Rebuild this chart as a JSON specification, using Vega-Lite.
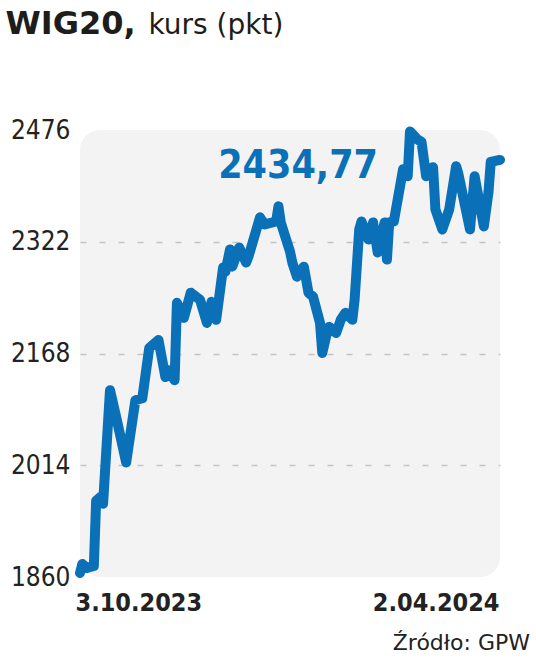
{
  "$schema": "https://vega.github.io/schema/vega-lite/v6.json",
  "autosize": "none",
  "width": 420,
  "height": 447,
  "padding": {"left": 80, "top": 130, "right": 36, "bottom": 82},
  "background": "#ffffff",
  "title": {
    "text": "Źródło: GPW",
    "orient": "bottom",
    "anchor": "end",
    "frame": "group",
    "dx": 30,
    "offset": 18,
    "font": "DejaVu Sans",
    "fontSize": 22,
    "fontWeight": "normal",
    "color": "#222222"
  },
  "data": {
    "values": [
      {"date": "2023-10-03", "value": 1865.5},
      {"date": "2023-10-04", "value": 1878.0},
      {"date": "2023-10-06", "value": 1872.5},
      {"date": "2023-10-09", "value": 1875.2},
      {"date": "2023-10-10", "value": 1965.2},
      {"date": "2023-10-12", "value": 1970.7},
      {"date": "2023-10-13", "value": 1961.1},
      {"date": "2023-10-16", "value": 2117.5},
      {"date": "2023-10-19", "value": 2076.0},
      {"date": "2023-10-23", "value": 2017.9},
      {"date": "2023-10-27", "value": 2103.6},
      {"date": "2023-10-30", "value": 2106.4},
      {"date": "2023-11-02", "value": 2175.6},
      {"date": "2023-11-06", "value": 2186.7},
      {"date": "2023-11-09", "value": 2135.5},
      {"date": "2023-11-10", "value": 2145.2},
      {"date": "2023-11-13", "value": 2131.3},
      {"date": "2023-11-14", "value": 2237.9},
      {"date": "2023-11-17", "value": 2217.1},
      {"date": "2023-11-20", "value": 2251.8},
      {"date": "2023-11-24", "value": 2242.1},
      {"date": "2023-11-27", "value": 2210.2},
      {"date": "2023-11-29", "value": 2239.3},
      {"date": "2023-12-01", "value": 2214.4},
      {"date": "2023-12-04", "value": 2286.4},
      {"date": "2023-12-05", "value": 2280.8},
      {"date": "2023-12-07", "value": 2311.3},
      {"date": "2023-12-08", "value": 2287.7},
      {"date": "2023-12-11", "value": 2314.1},
      {"date": "2023-12-14", "value": 2293.3},
      {"date": "2023-12-15", "value": 2301.6},
      {"date": "2023-12-20", "value": 2355.6},
      {"date": "2023-12-22", "value": 2345.8},
      {"date": "2023-12-27", "value": 2350.0},
      {"date": "2023-12-28", "value": 2370.8},
      {"date": "2023-12-29", "value": 2348.6},
      {"date": "2024-01-02", "value": 2308.5},
      {"date": "2024-01-03", "value": 2293.3},
      {"date": "2024-01-05", "value": 2273.9},
      {"date": "2024-01-08", "value": 2287.7},
      {"date": "2024-01-10", "value": 2251.8},
      {"date": "2024-01-12", "value": 2246.2},
      {"date": "2024-01-15", "value": 2210.2},
      {"date": "2024-01-16", "value": 2168.7},
      {"date": "2024-01-18", "value": 2196.4},
      {"date": "2024-01-19", "value": 2204.7},
      {"date": "2024-01-22", "value": 2196.4},
      {"date": "2024-01-24", "value": 2214.4},
      {"date": "2024-01-26", "value": 2224.1},
      {"date": "2024-01-29", "value": 2214.4},
      {"date": "2024-01-30", "value": 2242.1},
      {"date": "2024-02-01", "value": 2339.0},
      {"date": "2024-02-02", "value": 2350.0},
      {"date": "2024-02-05", "value": 2325.1},
      {"date": "2024-02-07", "value": 2348.6},
      {"date": "2024-02-09", "value": 2307.1},
      {"date": "2024-02-12", "value": 2348.6},
      {"date": "2024-02-13", "value": 2297.4},
      {"date": "2024-02-14", "value": 2348.6},
      {"date": "2024-02-16", "value": 2350.0},
      {"date": "2024-02-20", "value": 2422.0},
      {"date": "2024-02-22", "value": 2412.3},
      {"date": "2024-02-23", "value": 2474.0},
      {"date": "2024-02-26", "value": 2463.6},
      {"date": "2024-02-28", "value": 2459.4},
      {"date": "2024-03-01", "value": 2412.3},
      {"date": "2024-03-04", "value": 2424.8},
      {"date": "2024-03-05", "value": 2366.7},
      {"date": "2024-03-08", "value": 2339.0},
      {"date": "2024-03-11", "value": 2366.7},
      {"date": "2024-03-14", "value": 2426.2},
      {"date": "2024-03-15", "value": 2415.1},
      {"date": "2024-03-20", "value": 2339.0},
      {"date": "2024-03-22", "value": 2412.3},
      {"date": "2024-03-26", "value": 2343.1},
      {"date": "2024-03-28", "value": 2390.2},
      {"date": "2024-03-29", "value": 2432.0},
      {"date": "2024-04-02", "value": 2434.77}
    ]
  },
  "encoding": {
    "x": {
      "field": "date",
      "type": "temporal",
      "scale": {"type": "utc", "domain": [{"year": 2023, "month": 10, "date": 3, "utc": true}, {"year": 2024, "month": 4, "date": 2, "utc": true}]},
      "axis": {
        "values": [{"year": 2023, "month": 10, "date": 3, "utc": true}, {"year": 2024, "month": 4, "date": 2, "utc": true}],
        "format": "%-d.%m.%Y",
        "grid": false,
        "ticks": false,
        "domain": false,
        "labelFont": "DejaVu Sans Condensed",
        "labelFontSize": 25,
        "labelFontWeight": "bold",
        "labelColor": "#222222",
        "labelPadding": 13,
        "labelAlign": {"condition": {"test": "datum.value < 1704067200000", "value": "left"}, "value": "right"},
        "labelOffset": {"condition": {"test": "datum.value < 1704067200000", "value": -5}, "value": -1},
        "title": "kurs (pkt)",
        "titleX": 68,
        "titleY": -544,
        "titleAngle": 0,
        "titleAlign": "left",
        "titleBaseline": "alphabetic",
        "titleFont": "DejaVu Sans",
        "titleFontSize": 28,
        "titleFontWeight": "normal",
        "titleColor": "#1d1d1b"
      }
    },
    "y": {
      "field": "value",
      "type": "quantitative",
      "scale": {"domain": [1860, 2476], "nice": false, "zero": false},
      "axis": {
        "values": [1860, 2014, 2168, 2322, 2476],
        "format": "d",
        "ticks": false,
        "domain": false,
        "grid": true,
        "gridDash": [6, 13],
        "gridColor": "#c4c4c4",
        "gridWidth": 1.5,
        "gridOpacity": {"condition": {"test": "datum.value == 1860 || datum.value == 2476", "value": 0}, "value": 1},
        "labelFont": "DejaVu Sans Condensed",
        "labelFontSize": 26,
        "labelFontWeight": "normal",
        "labelColor": "#222222",
        "labelPadding": 10,
        "labelBaseline": "middle",
        "title": "WIG20,",
        "titleX": -75,
        "titleY": -97,
        "titleAngle": 0,
        "titleAlign": "left",
        "titleBaseline": "alphabetic",
        "titleFont": "DejaVu Sans",
        "titleFontSize": 32,
        "titleFontWeight": "bold",
        "titleColor": "#1d1d1b"
      }
    }
  },
  "layer": [
    {
      "mark": {"type": "line", "color": "#0a70b8", "strokeWidth": 10, "strokeCap": "round", "strokeJoin": "round", "clip": false}
    },
    {
      "transform": [{"filter": "datum.value == 2434.77"}],
      "mark": {"type": "text", "align": "center", "baseline": "alphabetic", "font": "DejaVu Sans Condensed", "fontSize": 39, "fontWeight": "bold", "color": "#0a70b8"},
      "encoding": {
        "x": {"datum": {"year": 2024, "month": 1, "date": 5, "hours": 12, "utc": true}, "type": "temporal"},
        "y": {"datum": 2410, "type": "quantitative"},
        "text": {"field": "value", "type": "quantitative", "format": ".2f"}
      }
    }
  ],
  "config": {
    "locale": {"number": {"decimal": ",", "thousands": " ", "grouping": [3], "currency": ["", " zł"]}},
    "view": {"fill": "#f3f3f3", "stroke": null, "cornerRadius": 20}
  }
}
